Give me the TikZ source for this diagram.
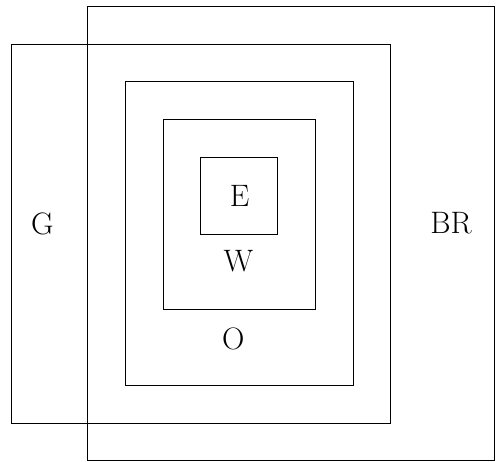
\documentclass[tikz,border=0pt]{standalone}
\begin{document}
\begin{tikzpicture}[x=1pt,y=-1pt,
  frame/.style={draw=black,line width=0.9pt},
  lbl/.style={anchor=base,inner sep=0pt,font=\fontsize{31}{37}\selectfont}]
\useasboundingbox (0,0) rectangle (496,462);
% nested boxes
\draw[frame] (87.3,6.7) rectangle (494.8,460.5);
\draw[frame] (11.7,44) rectangle (390,423);
\draw[frame] (125,81.3) rectangle (353,385);
\draw[frame] (163,119.3) rectangle (315,309);
\draw[frame] (200.7,157.3) rectangle (277.3,234);
% labels
\node[lbl] (g) at (42.5,234.5) {G};
\node[lbl] (br) at (451,234) {BR};
\node[lbl] (e) at (239.5,206.7) {E};
\node[lbl] (w) at (238.5,271.7) {W};
\node[lbl] (o) at (233.3,350) {O};
\end{tikzpicture}
\end{document}
